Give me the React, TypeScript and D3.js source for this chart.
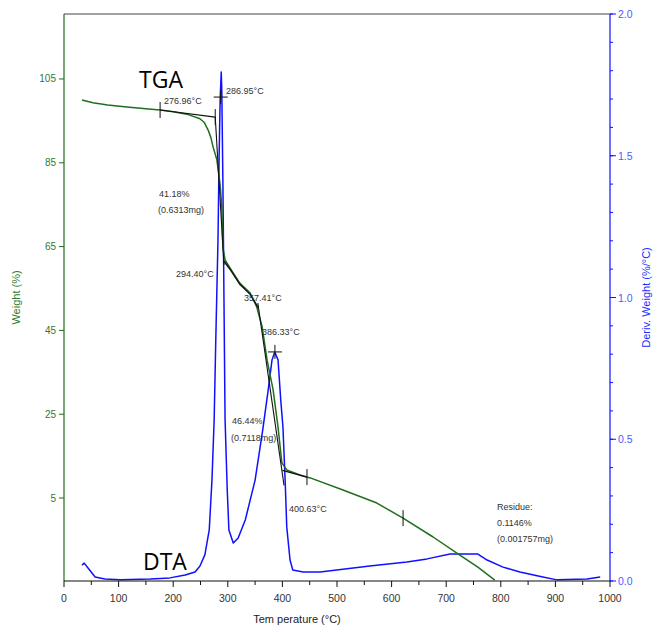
import React from "react";
import * as d3 from "d3";

// ---- Data ----
const tgaTemp = [33, 53, 80, 115, 150, 176, 200, 225, 249, 257, 264, 269, 273, 280, 286, 289, 291, 295, 304, 322, 341, 353, 363, 372, 383, 392, 399, 408, 432, 451, 511, 573, 621, 676, 725, 758, 789];
const tgaWeight = [100.0, 99.3, 98.8, 98.3, 97.9, 97.6, 97.2, 96.6, 95.5, 94.6, 92.8, 91.0, 88.8, 85.7, 79.7, 74.5, 64.9, 61.8, 59.9, 56.3, 53.9, 50.6, 45.8, 37.9, 30.8, 21.9, 13.4, 11.7, 10.5, 9.8, 6.9, 3.8, 0.2, -4.3, -8.6, -11.5, -14.6];

const dtaTemp = [33, 37, 44, 57, 75, 103, 158, 194, 222, 240, 249, 258, 266, 271, 275, 278, 282, 284, 286, 288, 289, 291, 293, 295, 299, 302, 310, 319, 332, 350, 364, 374, 381, 386, 392, 397, 401, 405, 408, 414, 419, 438, 469, 560, 628, 665, 707, 758, 775, 804, 835, 877, 903, 958, 982];
const dtaDeriv = [0.056, 0.063, 0.046, 0.014, 0.007, 0.004, 0.007, 0.011, 0.021, 0.032, 0.053, 0.092, 0.18, 0.356, 0.568, 0.85, 1.2, 1.485, 1.7, 1.795, 1.73, 1.41, 0.99, 0.57, 0.32, 0.18, 0.134, 0.152, 0.215, 0.356, 0.533, 0.674, 0.78, 0.808, 0.78, 0.638, 0.543, 0.356, 0.19, 0.074, 0.039, 0.032, 0.032, 0.053, 0.067, 0.078, 0.095, 0.095, 0.074, 0.049, 0.032, 0.014, 0.004, 0.007, 0.014];

// Analysis construction lines (temperature, weight)
const onsetLineT = [176, 277];
const onsetLineW = [97.6, 95.9];
const tangent1T = [277, 293];
const tangent1W = [95.9, 60.6];
const followT = [293, 304, 322, 341, 356];
const followW = [61.5, 59.6, 56.0, 53.6, 50.4];
const tangent2T = [355, 403];
const tangent2W = [51.5, 8.0];
const endLineT = [400, 445];
const endLineW = [11.6, 10.0];
const stepTickT = [176, 277, 445, 621];
const stepTickW = [97.6, 95.9, 10.0, 0.2];
const peakCrossT = [286.95, 386.33];
const peakCrossD = [1.707, 0.808];

const leftTicks = [5, 25, 45, 65, 85, 105];
const rightTicks = [0, 0.5, 1.0, 1.5, 2.0];
const rightMinor = d3.range(0, 2.0001, 0.1);
const bottomTicks = d3.range(0, 1001, 100);
const bottomMinor = d3.range(50, 1000, 100);

const annotations = [
  { t: "276.96°C", x: 164, y: 104 },
  { t: "286.95°C", x: 226, y: 94 },
  { t: "41.18%", x: 159, y: 197 },
  { t: "(0.6313mg)", x: 158, y: 213 },
  { t: "294.40°C", x: 176, y: 277 },
  { t: "357.41°C", x: 244, y: 301 },
  { t: "386.33°C", x: 262, y: 335 },
  { t: "46.44%", x: 232, y: 424 },
  { t: "(0.7118mg)", x: 231, y: 441 },
  { t: "400.63°C", x: 289, y: 512 },
  { t: "Residue:", x: 497, y: 510 },
  { t: "0.1146%", x: 497, y: 526 },
  { t: "(0.001757mg)", x: 497, y: 542 },
];

const W = 657;
const H = 634;
const L = 64, R = 610, T = 14, B = 581;
const GREEN = "#1f6f1f";
const BLUE = "#1010ff";

export default function App() {
  const x = d3.scaleLinear().domain([0, 1000]).range([L, R]);
  const yL = d3.scaleLinear().domain([-14.8, 120.5]).range([B, T]);
  const yR = d3.scaleLinear().domain([0, 2]).range([B, T]);

  const tgaLine = d3.line<number>().x((_, i) => x(tgaTemp[i])).y((w) => yL(w));
  const dtaLine = d3.line<number>().x((_, i) => x(dtaTemp[i])).y((v) => yR(v));
  const pairLine = (ts: number[], ws: number[]) =>
    d3.line<number>().x((_, i) => x(ts[i])).y((w) => yL(w))(ws) || "";

  const tgaClip = tgaWeight.map((w) => Math.max(w, -14.8));

  return (
    <svg width={W} height={H} style={{ position: "absolute", left: 0, top: 0, background: "#fff" }} fontFamily="'Liberation Sans', Arial, sans-serif">
      <rect x={0} y={0} width={W} height={H} fill="#fff" />
      <defs>
        <clipPath id="plot">
          <rect x={L} y={T} width={R - L} height={B - T} />
        </clipPath>
      </defs>

      {/* Curves */}
      <g clipPath="url(#plot)">
        <path d={dtaLine(dtaDeriv) || ""} fill="none" stroke={BLUE} strokeWidth={1.5} strokeLinejoin="round" />
        <path d={tgaLine(tgaClip) || ""} fill="none" stroke={GREEN} strokeWidth={1.5} strokeLinejoin="round" />
        {/* construction lines */}
        <path d={pairLine(onsetLineT, onsetLineW)} stroke="#111" strokeWidth={1.1} fill="none" />
        <path d={pairLine(tangent1T, tangent1W)} stroke="#111" strokeWidth={1.1} fill="none" />
        <path d={pairLine(followT, followW)} stroke="#111" strokeWidth={1.4} fill="none" />
        <path d={pairLine(tangent2T, tangent2W)} stroke="#111" strokeWidth={1.1} fill="none" />
        <path d={pairLine(endLineT, endLineW)} stroke="#111" strokeWidth={1.3} fill="none" />
        {stepTickT.map((t, i) => (
          <line key={"st" + i} x1={x(t)} x2={x(t)} y1={yL(stepTickW[i]) - 8} y2={yL(stepTickW[i]) + 8} stroke="#111" strokeWidth={1} />
        ))}
        {peakCrossT.map((t, i) => (
          <g key={"pc" + i} stroke="#111" strokeWidth={1}>
            <line x1={x(t) - 7} x2={x(t) + 7} y1={yR(peakCrossD[i])} y2={yR(peakCrossD[i])} />
            <line x1={x(t)} x2={x(t)} y1={yR(peakCrossD[i]) - 7} y2={yR(peakCrossD[i]) + 7} />
          </g>
        ))}
      </g>

      {/* Frame */}
      <line x1={L} x2={R} y1={T} y2={T} stroke="#444" strokeWidth={1.2} />
      <line x1={L} x2={L} y1={T} y2={B} stroke={GREEN} strokeWidth={1.2} />
      <line x1={R} x2={R} y1={T} y2={B} stroke={BLUE} strokeWidth={1.2} />
      <line x1={L} x2={R} y1={B} y2={B} stroke="#111" strokeWidth={1.2} />

      {/* Left axis */}
      {leftTicks.map((v) => (
        <g key={"l" + v}>
          <line x1={L - 5} x2={L} y1={yL(v)} y2={yL(v)} stroke={GREEN} strokeWidth={1} />
          <text x={L - 8} y={yL(v) + 3.5} fontSize={10} fill="#2f7a2f" textAnchor="end">{v}</text>
        </g>
      ))}
      <text transform={`translate(20,${(T + B) / 2}) rotate(-90)`} fontSize={11} fill="#2f7a2f" textAnchor="middle">Weight (%)</text>

      {/* Right axis */}
      {rightMinor.map((v, i) => (
        <line key={"rm" + i} x1={R} x2={R + 3} y1={yR(v)} y2={yR(v)} stroke={BLUE} strokeWidth={1} />
      ))}
      {rightTicks.map((v) => (
        <g key={"r" + v}>
          <line x1={R} x2={R + 6} y1={yR(v)} y2={yR(v)} stroke={BLUE} strokeWidth={1} />
          <text x={R + 8} y={yR(v) + 4} fontSize={10.5} fill="#4a5cff">{d3.format(".1f")(v)}</text>
        </g>
      ))}
      <text transform={`translate(650,${(T + B) / 2}) rotate(-90)`} fontSize={11} fill="#2030ff" textAnchor="middle">Deriv. Weight (%/°C)</text>

      {/* Bottom axis */}
      {bottomMinor.map((v) => (
        <line key={"bm" + v} x1={x(v)} x2={x(v)} y1={B} y2={B + 4} stroke="#111" strokeWidth={1} />
      ))}
      {bottomTicks.map((v) => (
        <g key={"b" + v}>
          <line x1={x(v)} x2={x(v)} y1={B} y2={B + 6} stroke="#111" strokeWidth={1} />
          <text x={x(v)} y={B + 21} fontSize={10.5} fill="#333" textAnchor="middle">{v}</text>
        </g>
      ))}
      <text x={297} y={623} fontSize={11} fill="#222" textAnchor="middle">Tem perature (°C)</text>

      {/* Annotations */}
      {annotations.map((a, i) => (
        <text key={"a" + i} x={a.x} y={a.y} fontSize={9} fill="#333">{a.t}</text>
      ))}
      <text x={139} y={88} fontSize={23} fill="#000" fontFamily="'Open Sans', 'DejaVu Sans', sans-serif">TGA</text>
      <text x={143} y={570} fontSize={23} fill="#000" fontFamily="'Open Sans', 'DejaVu Sans', sans-serif">DTA</text>
    </svg>
  );
}
